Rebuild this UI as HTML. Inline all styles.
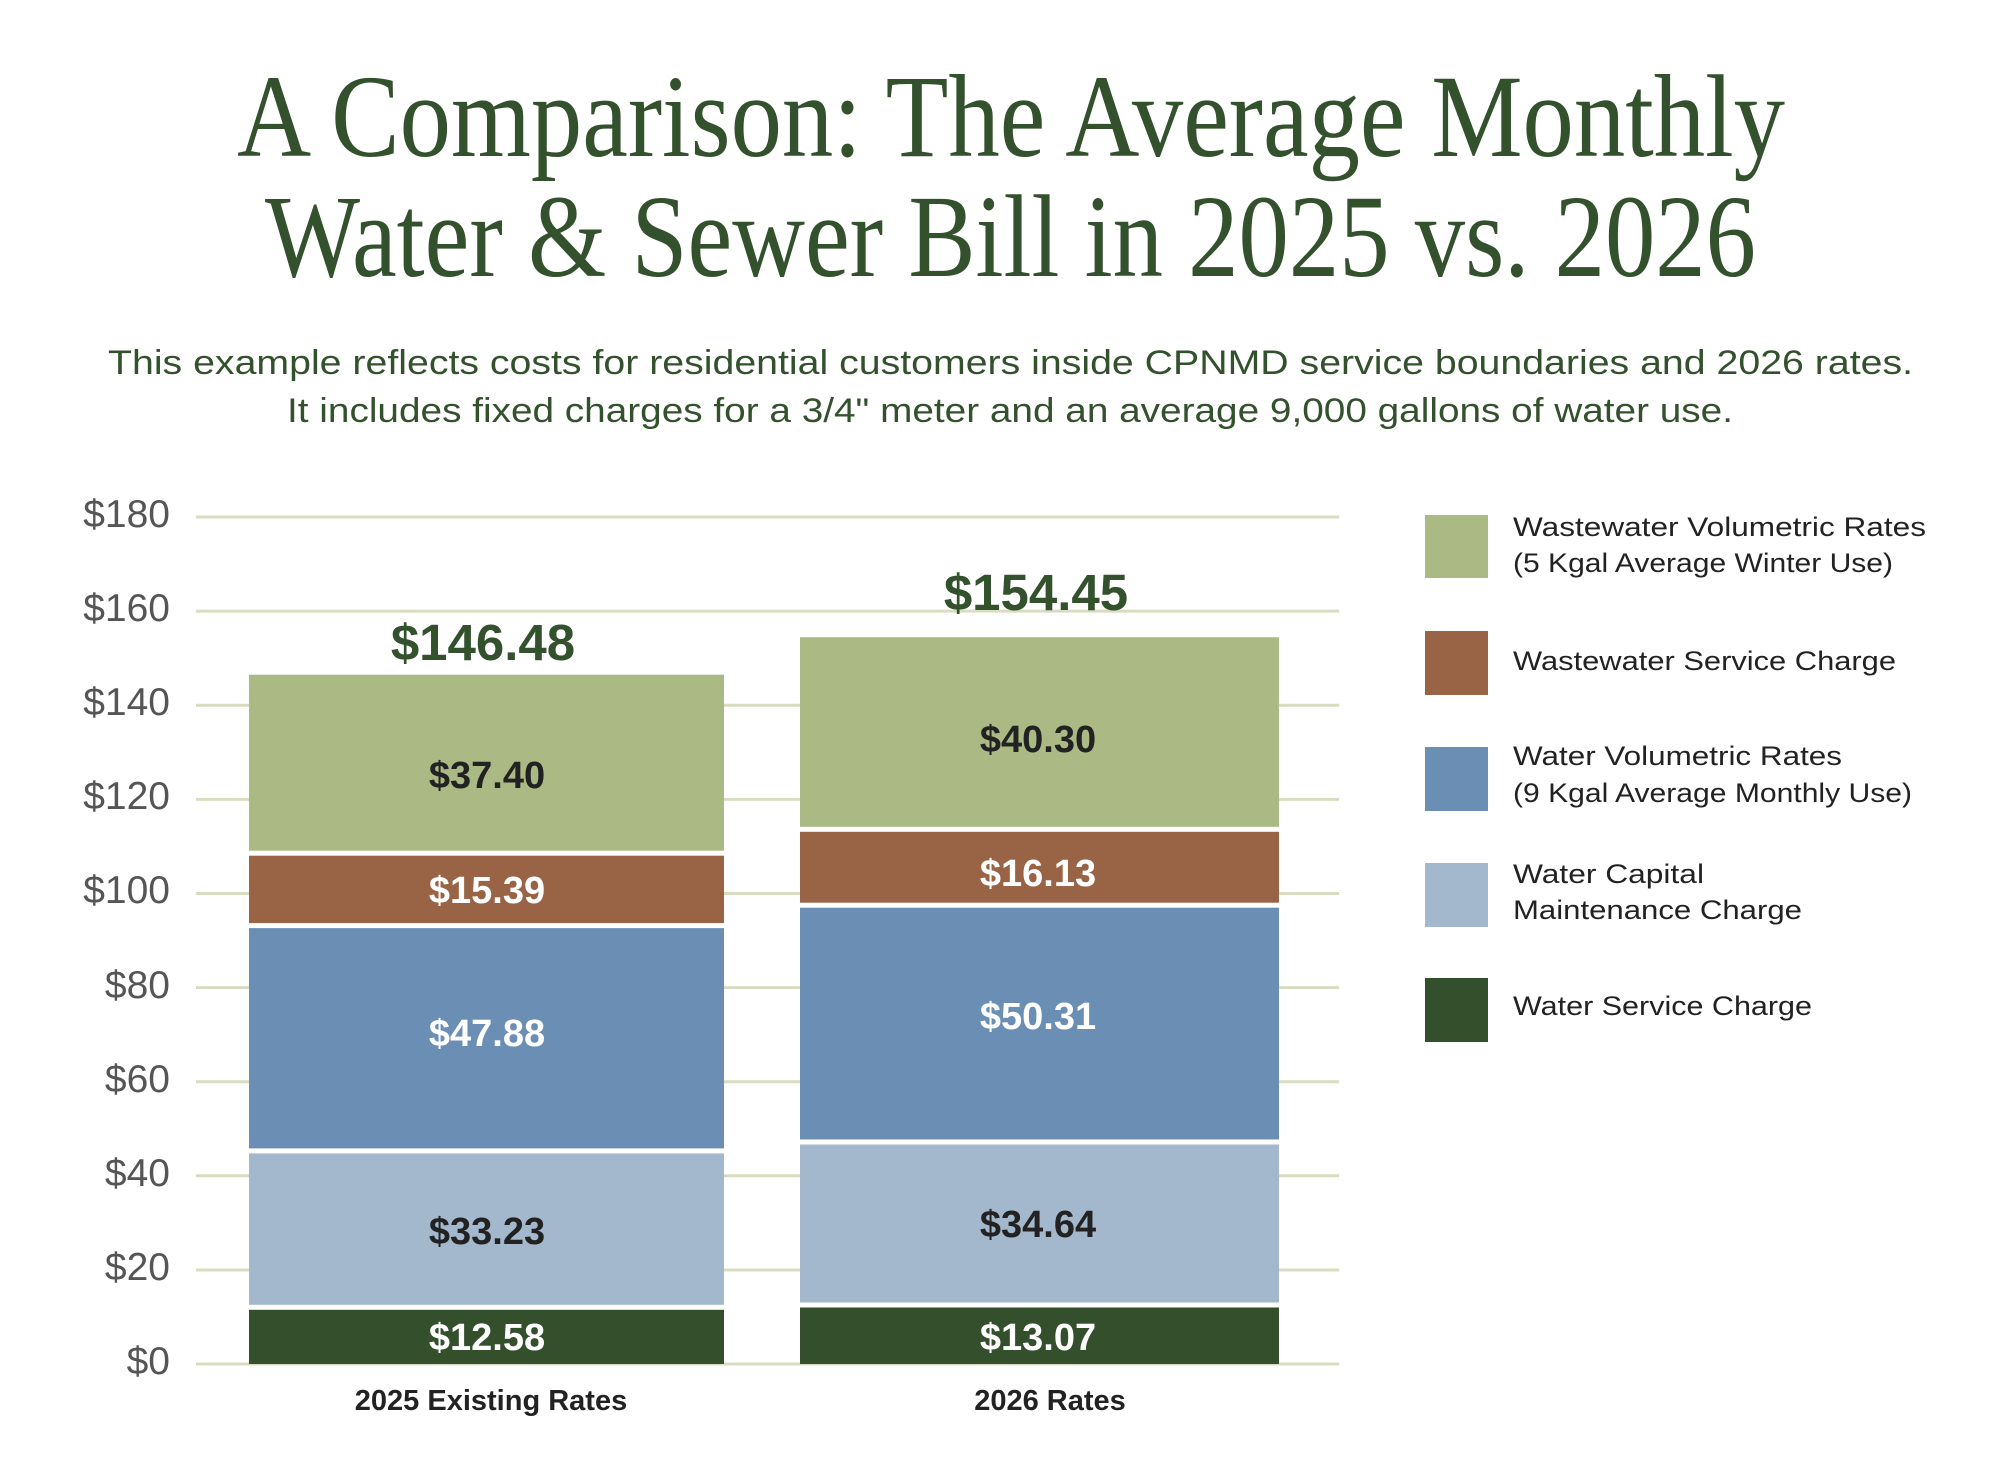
<!DOCTYPE html>
<html><head><meta charset="utf-8"><style>html,body{margin:0;padding:0;background:#fff}svg{display:block}</style></head>
<body>
<svg width="2000" height="1477" viewBox="0 0 2000 1477" xmlns="http://www.w3.org/2000/svg">
<rect width="2000" height="1477" fill="#fff"/>
<g font-family="Liberation Serif, serif" fill="#32512c" font-size="118">
<text x="237" y="156" textLength="1548" lengthAdjust="spacingAndGlyphs">A Comparison: The Average Monthly</text>
<text x="265" y="276" textLength="1491" lengthAdjust="spacingAndGlyphs">Water &amp; Sewer Bill in 2025 vs. 2026</text>
</g>
<g font-family="Liberation Sans, sans-serif" fill="#32512c" font-size="34">
<text x="108" y="374" textLength="1805" lengthAdjust="spacingAndGlyphs">This example reflects costs for residential customers inside CPNMD service boundaries and 2026 rates.</text>
<text x="287" y="422" textLength="1446" lengthAdjust="spacingAndGlyphs">It includes fixed charges for a 3/4" meter and an average 9,000 gallons of water use.</text>
</g>
<g stroke="#d9dcc0" stroke-width="3">
<line x1="196" x2="1339" y1="517" y2="517"/><line x1="196" x2="1339" y1="611.1" y2="611.1"/>
<line x1="196" x2="1339" y1="705.2" y2="705.2"/><line x1="196" x2="1339" y1="799.4" y2="799.4"/>
<line x1="196" x2="1339" y1="893.5" y2="893.5"/><line x1="196" x2="1339" y1="987.6" y2="987.6"/>
<line x1="196" x2="1339" y1="1081.7" y2="1081.7"/><line x1="196" x2="1339" y1="1175.8" y2="1175.8"/>
<line x1="196" x2="1339" y1="1270" y2="1270"/><line x1="196" x2="1339" y1="1364" y2="1364"/>
</g>
<g font-family="Liberation Sans, sans-serif" fill="#555" font-size="39" text-anchor="end">
<text x="170" y="527">$180</text><text x="170" y="621">$160</text><text x="170" y="715">$140</text>
<text x="170" y="809">$120</text><text x="170" y="903">$100</text><text x="170" y="998">$80</text>
<text x="170" y="1092">$60</text><text x="170" y="1186">$40</text><text x="170" y="1280">$20</text>
<text x="170" y="1374">$0</text>
</g>
<rect x="249" y="1309.8" width="475" height="54.2" fill="#344f2b"/>
<rect x="249" y="1153.4" width="475" height="151.4" fill="#a3b8cc"/>
<rect x="249" y="928.1" width="475" height="220.3" fill="#6b8fb4"/>
<rect x="249" y="855.7" width="475" height="67.4" fill="#996446"/>
<rect x="249" y="674.7" width="475" height="176" fill="#abba84"/>
<rect x="800" y="1307.5" width="479" height="56.5" fill="#344f2b"/>
<rect x="800" y="1144.5" width="479" height="158" fill="#a3b8cc"/>
<rect x="800" y="907.7" width="479" height="231.8" fill="#6b8fb4"/>
<rect x="800" y="831.8" width="479" height="70.9" fill="#996446"/>
<rect x="800" y="637.2" width="479" height="189.6" fill="#abba84"/>
<g font-family="Liberation Sans, sans-serif" font-weight="bold" font-size="38" text-anchor="middle">
<text x="487" y="1350" fill="#fff">$12.58</text>
<text x="487" y="1244" fill="#222">$33.23</text>
<text x="487" y="1046" fill="#fff">$47.88</text>
<text x="487" y="903" fill="#fff">$15.39</text>
<text x="487" y="788" fill="#222">$37.40</text>
<text x="1038" y="1350" fill="#fff">$13.07</text>
<text x="1038" y="1237" fill="#222">$34.64</text>
<text x="1038" y="1029" fill="#fff">$50.31</text>
<text x="1038" y="886" fill="#fff">$16.13</text>
<text x="1038" y="752" fill="#222">$40.30</text>
<text x="483" y="660" fill="#32512c" font-size="51">$146.48</text>
<text x="1036" y="610" fill="#32512c" font-size="51">$154.45</text>
</g>
<g font-family="Liberation Sans, sans-serif" font-weight="bold" font-size="29" fill="#222" text-anchor="middle">
<text x="491" y="1410">2025 Existing Rates</text>
<text x="1050" y="1410">2026 Rates</text>
</g>
<rect x="1425" y="515" width="63" height="63" fill="#abba84"/>
<rect x="1425" y="631" width="63" height="64" fill="#996446"/>
<rect x="1425" y="747" width="63" height="64" fill="#6b8fb4"/>
<rect x="1425" y="863" width="63" height="64" fill="#a3b8cc"/>
<rect x="1425" y="978" width="63" height="64" fill="#344f2b"/>
<g font-family="Liberation Sans, sans-serif" font-size="27" fill="#222">
<text x="1513" y="536" textLength="413" lengthAdjust="spacingAndGlyphs">Wastewater Volumetric Rates</text>
<text x="1513" y="572" textLength="380" lengthAdjust="spacingAndGlyphs">(5 Kgal Average Winter Use)</text>
<text x="1513" y="670" textLength="383" lengthAdjust="spacingAndGlyphs">Wastewater Service Charge</text>
<text x="1513" y="765" textLength="329" lengthAdjust="spacingAndGlyphs">Water Volumetric Rates</text>
<text x="1513" y="802" textLength="399" lengthAdjust="spacingAndGlyphs">(9 Kgal Average Monthly Use)</text>
<text x="1513" y="883" textLength="191" lengthAdjust="spacingAndGlyphs">Water Capital</text>
<text x="1513" y="919" textLength="289" lengthAdjust="spacingAndGlyphs">Maintenance Charge</text>
<text x="1513" y="1015" textLength="299" lengthAdjust="spacingAndGlyphs">Water Service Charge</text>
</g>
</svg>
</body></html>
